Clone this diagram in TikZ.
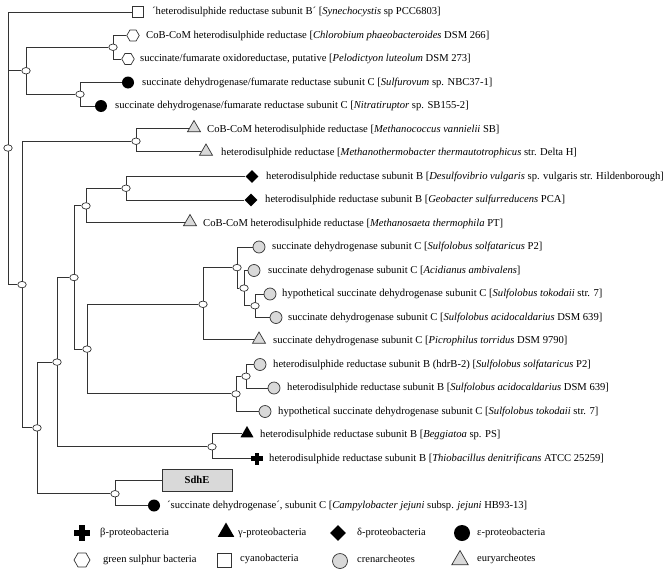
\documentclass[tikz,border=0pt]{standalone}
\usepackage{fontspec}
\setmainfont{Liberation Serif}
\usetikzlibrary{shapes.geometric,backgrounds}
\begin{document}
\begin{tikzpicture}[x=1pt,y=-1pt,
  font=\fontsize{10.6}{12}\selectfont,
  br/.style={line width=0.9pt, draw=black!80},
  inode/.style={ellipse, draw=black!80, fill=white, line width=0.7pt, minimum width=8.5pt, minimum height=6.5pt, inner sep=0pt},
  lbl/.style={anchor=west, inner sep=0pt},
  leg/.style={anchor=west, inner sep=0pt, font=\fontsize{10.5}{12}\selectfont},
  sqm/.style={rectangle, draw=black!80, fill=white, minimum size=10.5pt, inner sep=0pt, line width=0.7pt},
  hexm/.style={regular polygon, regular polygon sides=6, draw=black!80, fill=white, minimum size=12.5pt, inner sep=0pt, line width=0.7pt},
  bcirc/.style={circle, fill=black, minimum size=12pt, inner sep=0pt},
  gcirc/.style={circle, draw=black!80, fill=black!15, minimum size=12pt, inner sep=0pt, line width=0.7pt},
  gtri/.style={regular polygon, regular polygon sides=3, draw=black!80, fill=black!15, minimum size=15pt, inner sep=0pt, line width=0.7pt},
  btri/.style={regular polygon, regular polygon sides=3, fill=black, minimum size=15pt, inner sep=0pt},
  bdia/.style={diamond, fill=black, minimum size=13pt, inner sep=0pt},
  bcross/.style={rectangle, minimum size=12pt, inner sep=0pt, path picture={
     \fill[black] ([xshift=-2.4pt,yshift=-6pt]path picture bounding box.center) rectangle ([xshift=2.4pt,yshift=6pt]path picture bounding box.center);
     \fill[black] ([xshift=-6pt,yshift=-2.4pt]path picture bounding box.center) rectangle ([xshift=6pt,yshift=2.4pt]path picture bounding box.center);}},
  lcross/.style={rectangle, minimum size=16pt, inner sep=0pt, path picture={
     \fill[black] ([xshift=-3.2pt,yshift=-8pt]path picture bounding box.center) rectangle ([xshift=3.2pt,yshift=8pt]path picture bounding box.center);
     \fill[black] ([xshift=-8pt,yshift=-3.2pt]path picture bounding box.center) rectangle ([xshift=8pt,yshift=3.2pt]path picture bounding box.center);}},
]
\useasboundingbox (0,0) rectangle (666,570);

% ---------- leaves ----------
\node[sqm]   (l0)  at (138,12)    {};
\node[hexm]  (l1)  at (133,35.5)  {};
\node[hexm]  (l2)  at (128,59)    {};
\node[bcirc] (l3)  at (128,82.5)  {};
\node[bcirc] (l4)  at (101,106)   {};
\node[gtri]  (l5)  at (194,128)   {};
\node[gtri]  (l6)  at (206,151.5) {};
\node[bdia]  (l7)  at (252,176.5) {};
\node[bdia]  (l8)  at (251,200)   {};
\node[gtri]  (l9)  at (190,222)   {};
\node[gcirc] (l10) at (259,247)   {};
\node[gcirc] (l11) at (254,270.5) {};
\node[gcirc] (l12) at (270,294)   {};
\node[gcirc] (l13) at (276,317.5) {};
\node[gtri]  (l14) at (259,339.5) {};
\node[gcirc] (l15) at (260,364.5) {};
\node[gcirc] (l16) at (274,388)   {};
\node[gcirc] (l17) at (265,411.5) {};
\node[btri]  (l18) at (247,433.5) {};
\node[bcross](l19) at (257,458.5) {};
\node[draw=black!80, fill=black!15, line width=0.8pt, minimum width=70pt, minimum height=22pt, inner sep=0pt, font=\fontsize{10.6}{12}\selectfont\bfseries] (sdhe) at (197,480) {SdhE};
\node[bcirc] (l21) at (154,505.5) {};

% ---------- labels ----------
\node[lbl] (t0)  at (152,12)    {´heterodisulphide reductase subunit B´ [\textit{Synechocystis} sp PCC6803]};
\node[lbl] (t1)  at (146,35.5)  {CoB-CoM heterodisulphide reductase [\textit{Chlorobium phaeobacteroides} DSM 266]};
\node[lbl] (t2)  at (140,59)    {succinate/fumarate oxidoreductase, putative [\textit{Pelodictyon luteolum} DSM 273]};
\node[lbl] (t3)  at (142,82.5)  {succinate dehydrogenase/fumarate reductase subunit C [\textit{Sulfurovum} sp. NBC37-1]};
\node[lbl] (t4)  at (115,106)   {succinate dehydrogenase/fumarate reductase subunit C [\textit{Nitratiruptor} sp. SB155-2]};
\node[lbl] (t5)  at (207,129.5) {CoB-CoM heterodisulphide reductase [\textit{Methanococcus vannielii} SB]};
\node[lbl] (t6)  at (221,153)   {heterodisulphide reductase [\textit{Methanothermobacter thermautotrophicus} str. Delta H]};
\node[lbl] (t7)  at (266,176.5) {heterodisulphide reductase subunit B [\textit{Desulfovibrio vulgaris} sp. vulgaris str. Hildenborough]};
\node[lbl] (t8)  at (265,200)   {heterodisulphide reductase subunit B [\textit{Geobacter sulfurreducens} PCA]};
\node[lbl] (t9)  at (203,223.5) {CoB-CoM heterodisulphide reductase [\textit{Methanosaeta thermophila} PT]};
\node[lbl] (t10) at (272,247)   {succinate dehydrogenase subunit C [\textit{Sulfolobus solfataricus} P2]};
\node[lbl] (t11) at (268,270.5) {succinate dehydrogenase subunit C [\textit{Acidianus ambivalens}]};
\node[lbl] (t12) at (282,294)   {hypothetical succinate dehydrogenase subunit C [\textit{Sulfolobus tokodaii} str. 7]};
\node[lbl] (t13) at (288,317.5) {succinate dehydrogenase subunit C [\textit{Sulfolobus acidocaldarius} DSM 639]};
\node[lbl] (t14) at (273,341)   {succinate dehydrogenase subunit C [\textit{Picrophilus torridus} DSM 9790]};
\node[lbl] (t15) at (273,364.5) {heterodisulphide reductase subunit B (hdrB-2) [\textit{Sulfolobus solfataricus} P2]};
\node[lbl] (t16) at (287,388)   {heterodisulphide reductase subunit B [\textit{Sulfolobus acidocaldarius} DSM 639]};
\node[lbl] (t17) at (278,411.5) {hypothetical succinate dehydrogenase subunit C [\textit{Sulfolobus tokodaii} str. 7]};
\node[lbl] (t18) at (260,435)   {heterodisulphide reductase subunit B [\textit{Beggiatoa} sp. PS]};
\node[lbl] (t19) at (269,458.5) {heterodisulphide reductase subunit B [\textit{Thiobacillus denitrificans} ATCC 25259]};
\node[lbl] (t21) at (167,505.5) {´succinate dehydrogenase´, subunit C [\textit{Campylobacter jejuni} subsp. \textit{jejuni} HB93-13]};

% ---------- internal nodes ----------
\node[inode] (R)  at (8,148)    {};
\node[inode] (A)  at (26,70.75) {};
\node[inode] (B)  at (113,47.25){};
\node[inode] (C)  at (80,94.25) {};
\node[inode] (N1) at (22,284.6) {};
\node[inode] (N2) at (136,141.25){};
\node[inode] (D)  at (126,188.25){};
\node[inode] (E)  at (86,205.9) {};
\node[inode] (F)  at (74,277.5) {};
\node[inode] (I)  at (87,349.1) {};
\node[inode] (J)  at (203,304.3){};
\node[inode] (L)  at (237,267.6){};
\node[inode] (M)  at (244,288.1){};
\node[inode] (N)  at (255,305.75){};
\node[inode] (K)  at (236,393.9){};
\node[inode] (O)  at (246,376.25){};
\node[inode] (G)  at (57,362.1) {};
\node[inode] (H)  at (212,446.75){};
\node[inode] (N3) at (37,427.9) {};
\node[inode] (S)  at (115,493.75){};

% ---------- branches ----------
\begin{scope}[on background layer]
\draw[br] (R.center) |- (l0);
\draw[br] (R.center) |- (A);
\draw[br] (R.center) |- (N1);
\draw[br] (A.center) |- (B);
\draw[br] (A.center) |- (C);
\draw[br] (B.center) |- (l1);
\draw[br] (B.center) |- (l2);
\draw[br] (C.center) |- (l3);
\draw[br] (C.center) |- (l4);
\draw[br] (N1.center) |- (N2);
\draw[br] (N1.center) |- (N3);
\draw[br] (N2.center) |- (l5.west);
\draw[br] (N2.center) |- (l6.west);
\draw[br] (N3.center) |- (G);
\draw[br] (N3.center) |- (S);
\draw[br] (G.center) |- (F);
\draw[br] (G.center) |- (H);
\draw[br] (F.center) |- (E);
\draw[br] (F.center) |- (I);
\draw[br] (E.center) |- (D);
\draw[br] (E.center) |- (l9.west);
\draw[br] (D.center) |- (l7);
\draw[br] (D.center) |- (l8);
\draw[br] (I.center) |- (J);
\draw[br] (I.center) |- (K);
\draw[br] (J.center) |- (L);
\draw[br] (J.center) |- (l14.west);
\draw[br] (L.center) |- (l10);
\draw[br] (L.center) |- (M);
\draw[br] (M.center) |- (l11);
\draw[br] (M.center) |- (N);
\draw[br] (N.center) |- (l12);
\draw[br] (N.center) |- (l13);
\draw[br] (K.center) |- (O);
\draw[br] (K.center) |- (l17);
\draw[br] (O.center) |- (l15);
\draw[br] (O.center) |- (l16);
\draw[br] (H.center) |- (l18.west);
\draw[br] (H.center) |- (l19);
\draw[br] (S.center) |- (sdhe);
\draw[br] (S.center) |- (l21);
\end{scope}

% ---------- legend ----------
\node[lcross] (k1) at (82,533) {};
\node[leg] (k1t) at (100,533) {β-proteobacteria};
\node[btri, minimum size=19pt] (k2) at (226,532) {};
\node[leg] (k2t) at (238,533) {γ-proteobacteria};
\node[bdia, minimum size=16pt] (k3) at (338,533) {};
\node[leg] (k3t) at (357,533) {δ-proteobacteria};
\node[bcirc, minimum size=16pt] (k4) at (462,533) {};
\node[leg] (k4t) at (477,533) {ε-proteobacteria};
\node[hexm, minimum size=16pt] (k5) at (82,560) {};
\node[leg] (k5t) at (103,560) {green sulphur bacteria};
\node[sqm, minimum size=14pt] (k6) at (224,560) {};
\node[leg] (k6t) at (240,559) {cyanobacteria};
\node[gcirc, minimum size=15pt] (k7) at (340,561) {};
\node[leg] (k7t) at (357,559) {crenarcheotes};
\node[gtri, minimum size=19pt] (k8) at (460,560) {};
\node[leg] (k8t) at (477,559) {euryarcheotes};
\end{tikzpicture}
\end{document}
